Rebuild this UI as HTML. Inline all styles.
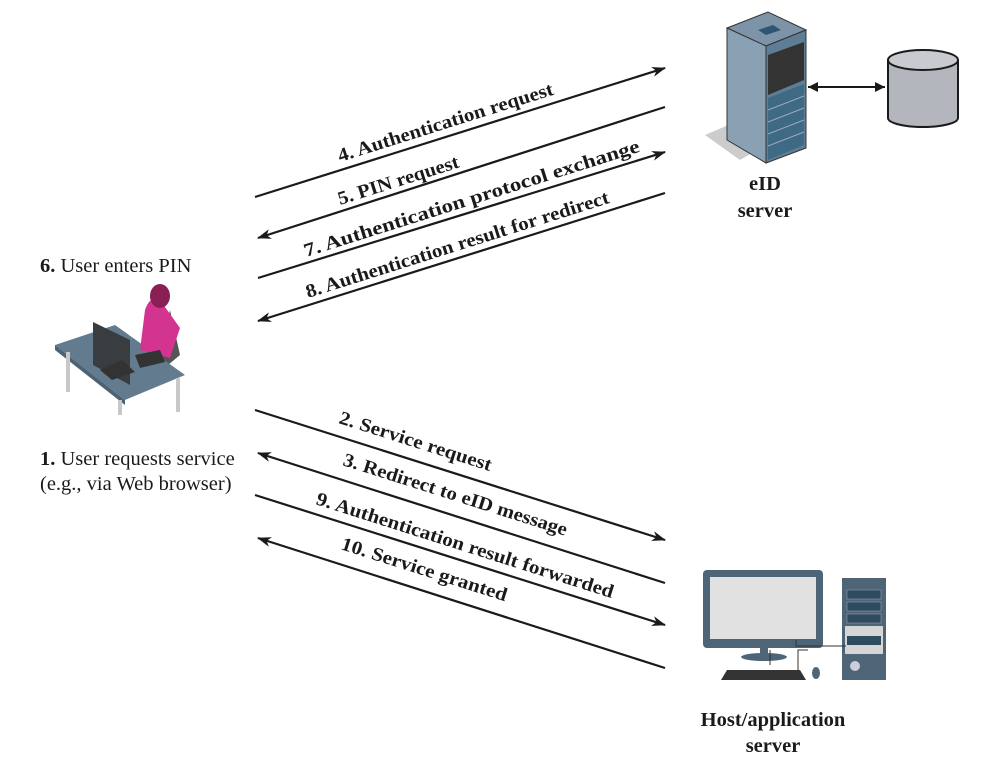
<!DOCTYPE html>
<html><head><meta charset="utf-8"><style>
html,body{margin:0;padding:0;background:#fff}
svg{display:block}
text{font-family:"Liberation Serif",serif;fill:#1a1a1a}
.b{font-weight:bold;font-size:19px}
.r{font-size:20.5px}
.c{font-weight:bold;font-size:20.5px}
</style></head><body>
<svg width="997" height="772" viewBox="0 0 997 772" xmlns="http://www.w3.org/2000/svg">
<defs>
<marker id="ah" markerWidth="14" markerHeight="10" refX="13" refY="5" orient="auto" markerUnits="userSpaceOnUse">
<path d="M0,0 L14,5 L0,10 L4,5 Z" fill="#1a1a1a"/></marker>
</defs>
<g stroke="#1a1a1a" stroke-width="2.2" fill="none" marker-end="url(#ah)">
<line x1="255" y1="197" x2="665" y2="68"/>
<line x1="665" y1="107" x2="258" y2="238"/>
<line x1="258" y1="278" x2="665" y2="152"/>
<line x1="665" y1="193" x2="258" y2="321"/>
<line x1="255" y1="410" x2="665" y2="540"/>
<line x1="665" y1="583" x2="258" y2="453"/>
<line x1="255" y1="495" x2="665" y2="625"/>
<line x1="665" y1="668" x2="258" y2="538"/>
</g>
<!-- labels -->
<text class="b" transform="translate(340,162) rotate(-17.5)" textLength="225" lengthAdjust="spacingAndGlyphs">4. Authentication request</text>
<text class="b" transform="translate(340,205) rotate(-17.5)" textLength="126" lengthAdjust="spacingAndGlyphs">5. PIN request</text>
<text class="b" transform="translate(306,257) rotate(-17.5)" textLength="351" lengthAdjust="spacingAndGlyphs">7. Authentication protocol exchange</text>
<text class="b" transform="translate(308,298) rotate(-17.5)" textLength="317" lengthAdjust="spacingAndGlyphs">8. Authentication result for redirect</text>
<text class="b" transform="translate(338,423) rotate(17.6)" textLength="159" lengthAdjust="spacingAndGlyphs">2. Service request</text>
<text class="b" transform="translate(342,465) rotate(17.6)" textLength="234" lengthAdjust="spacingAndGlyphs">3. Redirect to eID message</text>
<text class="b" transform="translate(315,504) rotate(17.6)" textLength="311" lengthAdjust="spacingAndGlyphs">9. Authentication result forwarded</text>
<text class="b" transform="translate(340,549) rotate(17.6)" textLength="173" lengthAdjust="spacingAndGlyphs">10. Service granted</text>

<text class="r" x="40" y="272"><tspan font-weight="bold">6.</tspan> User enters PIN</text>
<text class="r" x="40" y="465"><tspan font-weight="bold">1.</tspan> User requests service</text>
<text class="r" x="40" y="490">(e.g., via Web browser)</text>
<text class="c" x="765" y="190" text-anchor="middle">eID</text>
<text class="c" x="765" y="217" text-anchor="middle">server</text>
<text class="c" x="773" y="726" text-anchor="middle">Host/application</text>
<text class="c" x="773" y="752" text-anchor="middle">server</text>

<!-- eID server rack -->
<polygon points="705,135 740,120 775,140 740,160" fill="#ccc"/>
<polygon points="727,28 768,12 806,30 766,46" fill="#7d93a8" stroke="#333" stroke-width="1"/>
<polygon points="727,28 766,46 766,163 727,140" fill="#8aa0b3" stroke="#333" stroke-width="1"/>
<polygon points="766,46 806,30 806,148 766,163" fill="#5d7e96" stroke="#333" stroke-width="1"/>
<polygon points="758,30 773,25 781,30 766,35" fill="#2d5670"/>
<polygon points="768,55 804,42 804,80 768,95" fill="#333"/>
<polygon points="768,98 804,84 804,145 768,160" fill="#3e6a86"/>
<g stroke="#9ab" stroke-width="1"><line x1="768" y1="110" x2="804" y2="96"/><line x1="768" y1="122" x2="804" y2="108"/><line x1="768" y1="134" x2="804" y2="120"/><line x1="768" y1="146" x2="804" y2="132"/></g>
<!-- database -->
<line x1="808" y1="87" x2="885" y2="87" stroke="#1a1a1a" stroke-width="2"/>
<path d="M808,87 l10,-5 l0,10 z M885,87 l-10,-5 l0,10 z" fill="#1a1a1a"/>
<path d="M888,60 L888,118 A35,9 0 0 0 958,118 L958,60" fill="#b4b6bd" stroke="#1a1a1a" stroke-width="2"/>
<ellipse cx="923" cy="60" rx="35" ry="10" fill="#c8cad0" stroke="#1a1a1a" stroke-width="2"/>

<!-- user at desk -->
<path d="M170,310 l10,45 l-12,10 l-8,-5 z" fill="#555"/>
<polygon points="55,345 115,325 185,375 125,400" fill="#627b8f"/>
<polygon points="55,345 125,400 125,405 55,350" fill="#4c6375"/>
<line x1="68" y1="352" x2="68" y2="392" stroke="#c8c8c8" stroke-width="4"/>
<line x1="120" y1="400" x2="120" y2="415" stroke="#c8c8c8" stroke-width="4"/>
<line x1="178" y1="378" x2="178" y2="412" stroke="#c8c8c8" stroke-width="4"/>
<path d="M160,300 q-10,-5 -15,10 l-5,40 l30,8 l10,-30 z" fill="#d2348f"/>
<ellipse cx="160" cy="296" rx="10" ry="12" fill="#8a1f55"/>
<polygon points="93,322 130,340 130,385 93,365" fill="#3a3d40"/>
<polygon points="100,370 122,360 135,372 112,380" fill="#333"/>
<polygon points="135,355 160,350 165,362 140,368" fill="#333"/>

<!-- host computer -->
<rect x="703" y="570" width="120" height="78" rx="4" fill="#4d6577"/>
<rect x="710" y="577" width="106" height="62" fill="#e1e1e1"/>
<rect x="760" y="648" width="8" height="8" fill="#4d6577"/>
<ellipse cx="764" cy="657" rx="23" ry="4" fill="#4d6577"/>
<rect x="842" y="578" width="44" height="102" fill="#4d6577"/>
<rect x="847" y="590" width="34" height="9" fill="#2f4b60" stroke="#aab" stroke-width="0.5"/>
<rect x="847" y="602" width="34" height="9" fill="#2f4b60" stroke="#aab" stroke-width="0.5"/>
<rect x="847" y="614" width="34" height="9" fill="#2f4b60" stroke="#aab" stroke-width="0.5"/>
<rect x="845" y="626" width="38" height="28" fill="#d5d5d5"/>
<rect x="847" y="636" width="34" height="9" fill="#2f4b60"/>
<circle cx="855" cy="666" r="5" fill="#ccd"/>
<polygon points="727,670 800,670 806,680 721,680" fill="#333"/>
<ellipse cx="816" cy="673" rx="4" ry="6" fill="#4d6577"/>
<path d="M796,640 v6 h50 M808,650 h-10 v20 M770,650 v15" stroke="#333" stroke-width="1" fill="none"/>
</svg>
</body></html>
